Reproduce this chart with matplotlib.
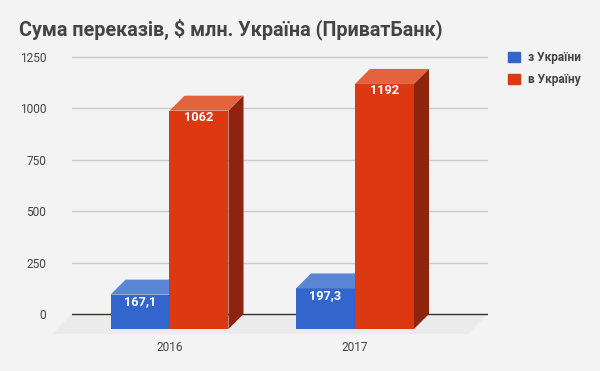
import matplotlib
matplotlib.use('Agg')
import matplotlib.pyplot as plt
from matplotlib.patches import Polygon, Patch

#-------------------------------------------------------------------------------#
# data                                                                          #
#-------------------------------------------------------------------------------#

years = ['2016', '2017']
from_ukraine = [167.1, 197.3]     # з України
to_ukraine = [1062, 1192]         # в Україну
series_names = ['з України', 'в Україну']
yticks = [0, 250, 500, 750, 1000, 1250]
title = 'Сума переказів, $ млн. Україна (ПриватБанк)'

#-------------------------------------------------------------------------------#
# style                                                                         #
#-------------------------------------------------------------------------------#

plt.rcParams['font.family'] = ['Roboto', 'DejaVu Sans']

BG = '#f3f3f3'
FLOOR = '#ebebeb'
TEXT = '#444444'
GRID = '#cccccc'
# front, top, side
BLUE = ('#3366cc', '#5b86d6', '#24478f')
RED = ('#dc3912', '#e4633f', '#8e2410')

BAR_W = 0.318      # width of one bar, in category units
DX, DY = 0.081, 73.0          # 3d depth of the bars (x units, value units)
FDX, FDY = 0.108, 97.0        # depth of the floor

#-------------------------------------------------------------------------------#
# plot                                                                          #
#-------------------------------------------------------------------------------#

fig = plt.figure(figsize=(6, 3.71), dpi=100)
fig.patch.set_facecolor(BG)

ax = fig.add_axes([72/600, (371-340.7)/371, 416/600, 291.9/371])
ax.set_facecolor('none')
ax.set_xlim(-0.5256, 1.717)
ax.set_ylim(-130, 1290)
for s in ax.spines.values():
    s.set_visible(False)

# floor
x0, x1 = ax.get_xlim()
ax.add_patch(Polygon([(x0, 0), (x1, 0), (x1 - FDX, -FDY), (x0 - FDX, -FDY)],
                     closed=True, fc=FLOOR, ec='none', zorder=0.5, clip_on=False))

# grid
for t in yticks:
    if t == 0:
        ax.axhline(t, color='#333333', lw=1.0, zorder=1.5)
    else:
        ax.axhline(t, color=GRID, lw=1.0, zorder=1)

def bar3d(xl, v, cols, z, label):
    ax.bar(xl, v, width=BAR_W, bottom=-DY, align='edge', color=cols[0],
           zorder=z, linewidth=0)
    top = [(xl, v - DY), (xl + DX, v), (xl + BAR_W + DX, v), (xl + BAR_W, v - DY)]
    side = [(xl + BAR_W, -DY), (xl + BAR_W + DX, 0), (xl + BAR_W + DX, v), (xl + BAR_W, v - DY)]
    ax.add_patch(Polygon(top, closed=True, fc=cols[1], ec='none', zorder=z))
    ax.add_patch(Polygon(side, closed=True, fc=cols[2], ec='none', zorder=z))
    ax.annotate(label, xy=(xl + BAR_W/2, v - DY), xytext=(0, -5),
                textcoords='offset points', ha='center', va='center',
                color='white', fontsize=9.2, fontweight='bold', zorder=z + 0.5)

for i in range(len(years)):
    bar3d(i - BAR_W, from_ukraine[i], BLUE, 3 + 2*i,
          f"{from_ukraine[i]:.1f}".replace('.', ','))
    bar3d(i, to_ukraine[i], RED, 4 + 2*i, f"{to_ukraine[i]:d}")

# axes ticks
ax.set_yticks(yticks)
ax.set_yticklabels([str(t) for t in yticks])
ax.tick_params(axis='y', length=0, pad=18.5, labelsize=8.6, labelcolor=TEXT)
ax.set_xticks(range(len(years)))
ax.set_xticklabels(years)
ax.tick_params(axis='x', length=0, pad=0, labelsize=8.6, labelcolor=TEXT)

# title
fig.text(19/600, (371-35)/371, title, ha='left', va='baseline',
         fontsize=14.2, fontweight='bold', color=TEXT)

# legend
handles = [Patch(color=BLUE[0]), Patch(color=RED[0])]
ax.legend(handles, series_names, loc='upper left',
          bbox_to_anchor=(508/600, (371-51)/371), bbox_transform=fig.transFigure,
          frameon=False, borderpad=0, borderaxespad=0, handlelength=1.0,
          handleheight=1.0, handletextpad=0.67, labelspacing=0.75,
          prop={'size': 8.6, 'weight': 'bold'}, labelcolor=TEXT)

fig.savefig('out.png', dpi=100, facecolor=BG)
